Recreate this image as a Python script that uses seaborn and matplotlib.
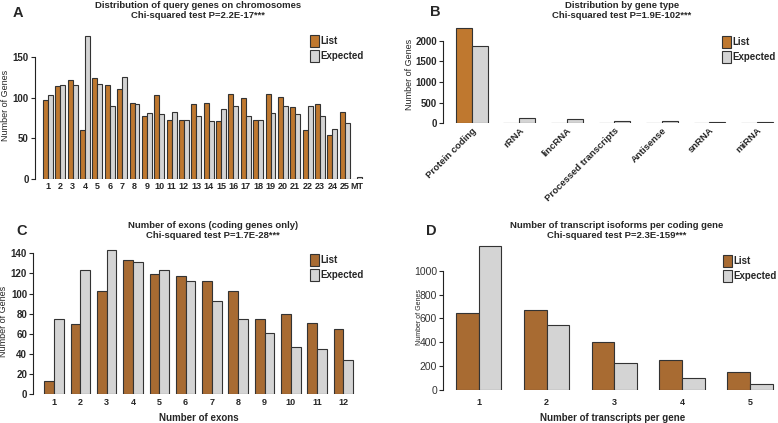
import pandas as pd
import matplotlib
matplotlib.use("Agg")
import matplotlib.pyplot as plt
import seaborn as sns
from matplotlib.patches import Patch

# datos
chrom_labels = [str(i) for i in range(1, 26)] + ["MT"]
chrom_list = [97, 114, 122, 60, 124, 115, 111, 94, 77, 103, 72, 72, 92, 94, 71,
              104, 99, 73, 105, 101, 88, 60, 92, 54, 82, 0.5]
chrom_expected = [103, 115, 116, 176, 117, 90, 125, 92, 81, 80, 82, 72, 78, 71, 86,
                  90, 78, 72, 81, 90, 80, 90, 77, 61, 69, 3]

type_labels = ["Protein coding", "rRNA", "lincRNA", "Processed transcripts",
               "Antisense", "snRNA", "miRNA"]
type_list = [2300, 3, 4, 3, 4, 3, 3]
type_expected = [1880, 120, 95, 65, 48, 32, 30]

exon_labels = [str(i) for i in range(1, 13)]
exon_list = [13, 70, 103, 133, 119, 117, 112, 103, 75, 80, 71, 65]
exon_expected = [75, 123, 143, 131, 123, 112, 93, 75, 61, 47, 45, 34]

iso_labels = ["1", "2", "3", "4", "5"]
iso_list = [642, 672, 400, 250, 151]
iso_expected = [1203, 542, 230, 104, 50]

BROWN = "#BF782F"
BROWN_D = "#A86B32"
GRAY = "#D4D4D4"
EDGE = "#333333"

sns.set_style("ticks")
plt.rcParams["font.family"] = ["Liberation Sans", "DejaVu Sans"]

W, H = 778, 423
fig = plt.figure(figsize=(W / 100, H / 100), dpi=100)


def eje(left, top, width, height):
    return fig.add_axes([left / W, 1 - (top + height) / H, width / W, height / H])


def largo(cats, lista, esperado):
    return pd.DataFrame({
        "cat": cats * 2,
        "n": list(lista) + list(esperado),
        "grupo": ["List"] * len(cats) + ["Expected"] * len(cats),
    })


def panel(ax, df, ancho, color, ylim, xlim, yticks, offset_px, bold_ticks=True, xpad=2):
    sns.barplot(data=df, x="cat", y="n", hue="grupo", palette=[color, GRAY],
                width=ancho, edgecolor=EDGE, linewidth=0.8, legend=False,
                ax=ax, saturation=1)
    ax.set_xlim(*xlim)
    ax.set_ylim(*ylim)
    ax.set_yticks(yticks)
    sns.despine(ax=ax, bottom=True)
    ax.spines["left"].set_bounds(yticks[0], yticks[-1])
    ax.spines["left"].set_position(("outward", offset_px * 0.72))
    ax.spines["left"].set_linewidth(0.8)
    ax.spines["left"].set_color("#222222")
    ax.tick_params(axis="x", length=0, pad=xpad)
    ax.tick_params(axis="y", length=3, width=0.8, pad=1.5)
    ax.set_xlabel("")
    ax.set_ylabel("")
    peso = "bold" if bold_ticks else "normal"
    for t in ax.get_yticklabels():
        t.set_fontweight(peso)
        t.set_fontsize(7)
    for t in ax.get_xticklabels():
        t.set_fontweight("bold")
        t.set_fontsize(6.5)


def leyenda(ax, x, y, color):
    manejadores = [Patch(facecolor=color, edgecolor=EDGE, linewidth=0.8, label="List"),
                   Patch(facecolor=GRAY, edgecolor=EDGE, linewidth=0.8, label="Expected")]
    ax.legend(handles=manejadores, loc="upper left", bbox_to_anchor=(x / W, 1 - y / H),
              bbox_transform=fig.transFigure, frameon=False, prop={"weight": "bold", "size": 7},
              handlelength=0.9, handleheight=1.6, handletextpad=0.2, labelspacing=0.25,
              borderpad=0, borderaxespad=0)


def titulo(x, y, letra, lx, ly, linea1, linea2):
    fig.text(x / W, 1 - y / H, linea1 + "\n" + linea2, ha="center", va="top",
             fontsize=6.8, fontweight="bold", linespacing=1.2)
    fig.text(lx / W, 1 - ly / H, letra, ha="left", va="top", fontsize=10.5, fontweight="bold")


# A
axA = eje(39.3, 32.6, 326.4, 146.4)
panel(axA, largo(chrom_labels, chrom_list, chrom_expected), 0.8, BROWN,
      (0, 180), (-0.7, 25.7), [0, 50, 100, 150], 4.3)
axA.set_ylabel("Number of Genes", fontsize=6.5, labelpad=2)
leyenda(axA, 310, 35, BROWN)
titulo(198, 0.5, "A", 13, 6, "Distribution of query genes on chromosomes",
       "Chi-squared test P=2.2E-17***")

# B
axB = eje(450.5, 26.2, 325.5, 97.1)
panel(axB, largo(type_labels, type_list, type_expected), 0.67, BROWN,
      (0, 2350), (-0.45, 6.4), [0, 500, 1000, 1500, 2000], 7.5)
axB.set_ylabel("Number of Genes", fontsize=6.5, labelpad=1)
for t in axB.get_xticklabels():
    t.set_rotation(45)
    t.set_ha("right")
    t.set_rotation_mode("anchor")
    t.set_fontsize(6.8)
leyenda(axB, 722, 36, BROWN)
titulo(622, 0.5, "B", 430, 5, "Distribution by gene type", "Chi-squared test P=1.9E-102***")

# C
axC = eje(38.3, 248.3, 320.9, 145.7)
panel(axC, largo(exon_labels, exon_list, exon_expected), 0.74, BROWN_D,
      (0, 145), (-0.6, 11.6), [0, 20, 40, 60, 80, 100, 120, 140], 5, xpad=3)
axC.set_ylabel("Number of Genes", fontsize=6.5, labelpad=2)
axC.set_xlabel("Number of exons", fontsize=7, fontweight="bold", labelpad=4)
leyenda(axC, 310, 254, BROWN_D)
titulo(213, 221, "C", 16, 224, "Number of exons (coding genes only)",
       "Chi-squared test P=1.7E-28***")

# D
axD = eje(448.2, 243.2, 328.8, 146.8)
panel(axD, largo(iso_labels, iso_list, iso_expected), 0.67, BROWN_D,
      (0, 1230), (-0.45, 4.4), [0, 200, 400, 600, 800, 1000], 5, bold_ticks=False, xpad=6)
for t in axD.get_yticklabels():
    t.set_fontsize(7.5)
    t.set_color("#333333")
axD.set_ylabel("Number of Genes", fontsize=5)
axD.yaxis.set_label_coords((423 - 448.2) / 328.8, 0.5)
axD.set_xlabel("Number of transcripts per gene", fontsize=7, fontweight="bold", labelpad=4)
leyenda(axD, 723, 255, BROWN_D)
titulo(617, 221, "D", 426, 224, "Number of transcript isoforms per coding gene",
       "Chi-squared test P=2.3E-159***")

fig.savefig("out.png", dpi=100)
